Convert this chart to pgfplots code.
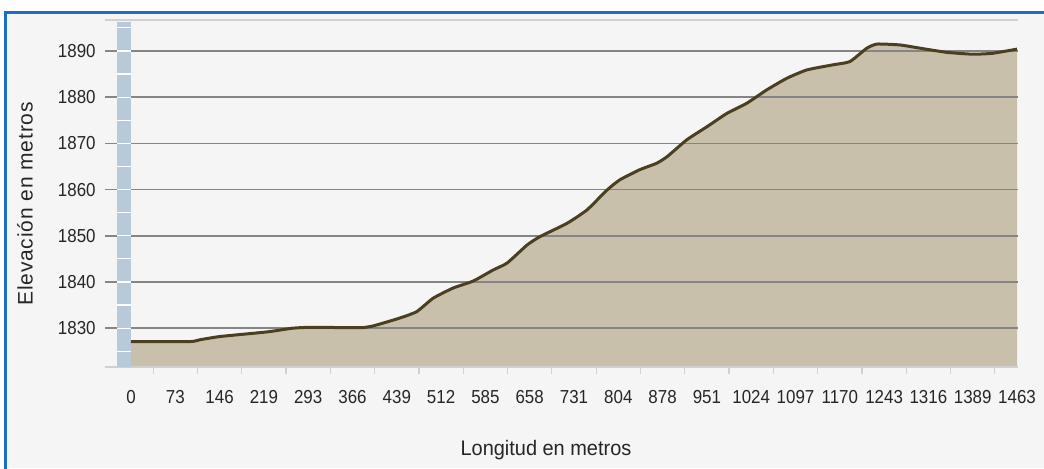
\documentclass[border=0pt]{standalone}
\usepackage{fontspec}
\setmainfont{Liberation Sans}[FakeStretch=0.9]
\newfontfamily\ylabfont{Liberation Sans}[LetterSpace=4.0]
\newfontfamily\xlabfont{Liberation Sans}[FakeStretch=0.95]
\usepackage{pgfplots}
\usepackage{pgfplotstable}
\pgfplotsset{compat=1.18}
\definecolor{framebl}{HTML}{1A6FC2}
\definecolor{bgg}{HTML}{F5F5F5}
\definecolor{areaf}{HTML}{C9C0AB}
\definecolor{linec}{HTML}{4B3F22}
\definecolor{gridc}{HTML}{858585}
\definecolor{barb}{HTML}{B8C9DA}
\definecolor{txt}{HTML}{262626}
\definecolor{axl}{HTML}{D0D0D0}

\pgfplotstableread{
x y
0 1827.1
97 1827.1
114 1827.5
147 1828.2
225 1829.2
267 1830.0
300 1830.2
378 1830.1
400 1830.5
444 1832.2
472 1833.6
499 1836.5
532 1838.7
565 1840.2
598 1842.6
621 1844.1
654 1848.0
675 1849.8
720 1852.7
753 1855.6
786 1859.9
807 1862.1
840 1864.3
868 1865.7
885 1867.1
918 1870.8
951 1873.6
984 1876.5
1017 1878.7
1050 1881.6
1083 1884.1
1116 1885.9
1159 1887.0
1187 1887.7
1215 1890.6
1232 1891.5
1270 1891.3
1303 1890.6
1347 1889.7
1390 1889.3
1423 1889.5
1463 1890.4
}\profile

\begin{document}
\begin{tikzpicture}[x=1pt,y=1pt]
\useasboundingbox (0,0) rectangle (522,234);
\fill[white] (0,0) rectangle (522,234);
\fill[bgg] (2.5,0) rectangle (522,228);
\draw[framebl, line width=1.5pt] (2.5,-2) -- (2.5,228) -- (524,228);
\begin{axis}[
  at={(52.5pt,50.5pt)}, anchor=south west, scale only axis,
  width=456.5pt, height=173.5pt,
  xmin=-42.93, xmax=1464.65, ymin=1821.6, ymax=1896.7,
  clip mode=individual,
  axis line style={draw=none},
  xtick={0,73.15,146.3,219.45,292.6,365.75,438.9,512.05,585.2,658.35,731.5,804.65,877.8,950.95,1024.1,1097.25,1170.4,1243.55,1316.7,1389.85,1463},
  xticklabels={0,73,146,219,293,366,439,512,585,658,731,804,878,951,1024,1097,1170,1243,1316,1389,1463},
  minor xtick={36.575,109.725,182.875,256.025,329.175,402.325,475.475,548.625,621.775,694.925,768.075,841.225,914.375,987.525,1060.675,1133.825,1206.975,1280.125,1353.275,1426.425},
  ytick={1830,1840,1850,1860,1870,1880,1890},
  major tick length=0pt, minor tick length=3.5pt,
  tick align=outside, xtick pos=bottom, ytick pos=left,
  minor tick style={axl, line width=0.6pt},
  /pgf/number format/assume math mode=true,
  /pgf/number format/1000 sep={},
  ticklabel style={font=\fontsize{9.4}{11}\selectfont, text=txt, inner sep=0pt},
  yticklabel style={anchor=east, xshift=-4.5pt},
  xticklabel style={anchor=north, yshift=-11.5pt},
  xlabel={\xlabfont Longitud en metros},
  ylabel={\ylabfont Elevación en metros},
  xlabel style={at={(axis description cs:0.483,-0.239)}, anchor=center, font=\fontsize{10.5}{12}\selectfont, text=txt},
  ylabel style={at={(axis description cs:-0.0876,0.47)}, anchor=center, font=\fontsize{10.5}{12}\selectfont, text=txt},
]
\addplot[fill=areaf, draw=none, smooth, tension=0.3] table[x=x,y=y] {\profile} \closedcycle;
\pgfplotsinvokeforeach{1830,1840,1850,1860,1870,1880,1890}{
  \draw[gridc, line width=0.75pt] (axis cs:-42.93,#1) -- (axis cs:1464.65,#1);
}
\draw[axl, line width=0.8pt] (rel axis cs:0,1) -- (rel axis cs:1,1);
\draw[axl, line width=0.8pt] (rel axis cs:0,0) -- (rel axis cs:1,0);
\fill[barb] (axis cs:-23.1,1821.6) rectangle (axis cs:0,1896.2);
\pgfplotsinvokeforeach{1825,1830,1835,1840,1845,1850,1855,1860,1865,1870,1875,1880,1885,1890,1895}{
  \draw[white, line width=0.6pt] (axis cs:-23.1,#1) -- (axis cs:0,#1);
}
\addplot[linec, line width=1.5pt, line join=round, smooth, tension=0.3] table[x=x,y=y] {\profile};
\end{axis}
\end{tikzpicture}
\end{document}
